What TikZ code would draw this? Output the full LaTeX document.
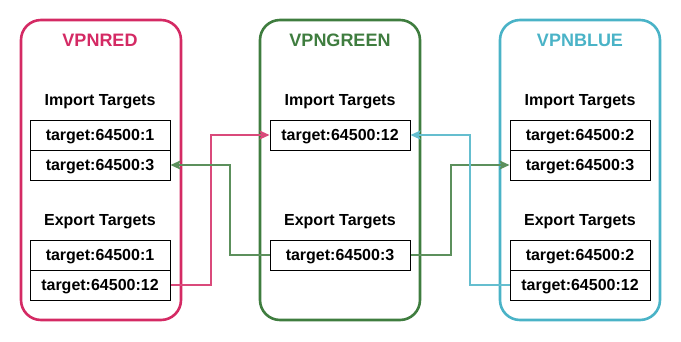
\documentclass[tikz,border=0pt]{standalone}
\usepackage{fontspec}
\setmainfont{Liberation Sans}
\usetikzlibrary{arrows.meta}
\definecolor{cred}{HTML}{D42A64}
\definecolor{cgreen}{HTML}{3F7D3F}
\definecolor{cblue}{HTML}{4AB3C7}
\begin{document}
\begin{tikzpicture}[x=1pt,y=-1pt,
  container/.style={draw=#1, line width=2.6pt, rounded corners=20pt, inner sep=0pt,
    minimum width=160pt, minimum height=300pt},
  tbox/.style={draw=black, line width=1pt, minimum width=140pt, minimum height=30pt,
    inner sep=0pt, font=\fontsize{16}{18}\selectfont\bfseries,
    text height=11.5pt, text depth=0pt},
  ttl/.style={text=#1, font=\fontsize{18}{20}\selectfont\bfseries, inner sep=0pt,
    text height=12.9pt, text depth=0pt},
  hdr/.style={font=\fontsize{16}{18}\selectfont\bfseries, inner sep=0pt,
    text height=11.5pt, text depth=0pt},
  link/.style={draw=#1!85, line width=2pt, -{Stealth[length=10pt,width=9pt,inset=2pt]}}
]
\useasboundingbox (0,0) rectangle (681,341);
% containers
\node[container=cred] (red) at (101,170) {};
\node[container=cgreen] (green) at (340,170) {};
\node[container=cblue] (blue) at (580,170) {};
% titles
\node[ttl=cred] (redT) at (100,40) {VPNRED};
\node[ttl=cgreen] (greenT) at (340,40) {VPNGREEN};
\node[ttl=cblue] (blueT) at (580,40) {VPNBLUE};
% headers
\node[hdr] (rIh) at (100,100) {Import Targets};
\node[hdr] (rEh) at (100,220) {Export Targets};
\node[hdr] (gIh) at (340,100) {Import Targets};
\node[hdr] (gEh) at (340,220) {Export Targets};
\node[hdr] (bIh) at (580,100) {Import Targets};
\node[hdr] (bEh) at (580,220) {Export Targets};
% boxes
\node[tbox] (rI1) at (100,135) {target:64500:1};
\node[tbox] (rI2) at (100,165) {target:64500:3};
\node[tbox] (rE1) at (100,255) {target:64500:1};
\node[tbox] (rE2) at (100,285) {target:64500:12};
\node[tbox] (gI1) at (340,135) {target:64500:12};
\node[tbox] (gE1) at (340,255) {target:64500:3};
\node[tbox] (bI1) at (580,135) {target:64500:2};
\node[tbox] (bI2) at (580,165) {target:64500:3};
\node[tbox] (bE1) at (580,255) {target:64500:2};
\node[tbox] (bE2) at (580,285) {target:64500:12};
% connectors
\draw[link=cred] (rE2.east) -- ++(40,0) |- (gI1.west);
\draw[link=cgreen] (gE1.west) -- ++(-40,0) |- (rI2.east);
\draw[link=cgreen] (gE1.east) -- ++(40,0) |- (bI2.west);
\draw[link=cblue] (bE2.west) -- ++(-40,0) |- (gI1.east);
\end{tikzpicture}
\end{document}
